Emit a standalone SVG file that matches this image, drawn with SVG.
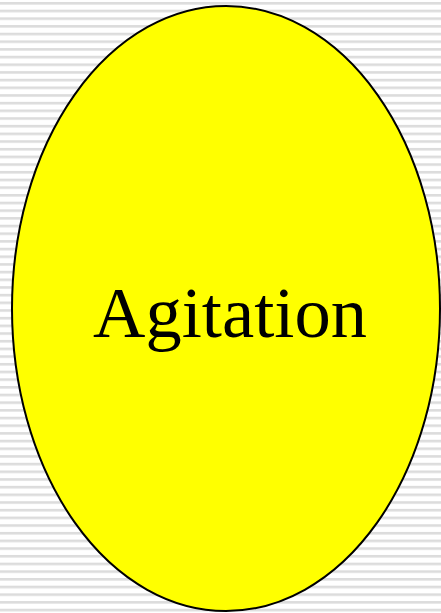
<svg xmlns="http://www.w3.org/2000/svg" width="441" height="613" viewBox="0 0 441 613">
  <defs>
    <pattern id="stripes" x="0" y="2" width="441" height="7.68" patternUnits="userSpaceOnUse">
      <rect x="0" y="0" width="441" height="2.6" fill="#dcdcdc"/>
    </pattern>
    <style>
      .node-shape { fill: #ffff00; stroke: #000000; stroke-width: 2; }
      .node-label { font-family: "Liberation Serif", "DejaVu Serif", serif; font-size: 71px; fill: #000000; text-anchor: middle; }
    </style>
  </defs>
  <rect x="0" y="0" width="441" height="613" fill="#ffffff"/>
  <rect x="0" y="0" width="441" height="613" fill="url(#stripes)"/>
  <g id="connectors"></g>
  <g id="agitation">
    <ellipse class="node-shape" cx="226" cy="308.5" rx="214" ry="302.5"/>
    <text class="node-label" x="230" y="337" textLength="274" lengthAdjust="spacingAndGlyphs">Agitation</text>
  </g>
</svg>
